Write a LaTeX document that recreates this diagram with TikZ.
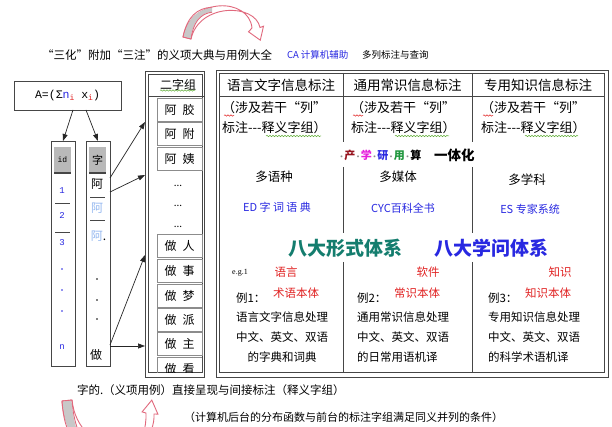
\documentclass[tikz,border=0pt]{standalone}
\usepackage{fontspec}
\setmainfont{Noto Sans CJK SC}
\newfontfamily\monof{Liberation Mono}
\newfontfamily\seriff{Liberation Serif}
\usetikzlibrary{arrows.meta,calc,decorations.pathmorphing}
\definecolor{pinkline}{RGB}{225,105,125}
\definecolor{bandgray}{RGB}{200,200,200}
\definecolor{redtxt}{RGB}{225,35,35}
\definecolor{bluetxt}{RGB}{40,40,225}
\definecolor{tealtxt}{RGB}{20,125,110}
\definecolor{lightbl}{RGB}{150,185,240}
\definecolor{hdrgray}{RGB}{185,185,185}
\definecolor{darkred}{RGB}{150,20,30}
\definecolor{magtxt}{RGB}{230,30,220}
\definecolor{greentxt}{RGB}{30,150,60}
\definecolor{framec}{RGB}{70,70,70}
\definecolor{cellc}{RGB}{140,140,140}
\definecolor{wavyg}{RGB}{100,175,60}
\newcommand{\fs}[1]{\fontsize{#1}{#1}\selectfont}
\newcommand{\cdt}{\makebox[5.5pt]{\color{black!45}\fs{7}·}}
\newcommand{\hyp}{-{}-{}-}
\begin{document}
\begin{tikzpicture}[x=1pt,y=-1pt,
  every node/.style={inner sep=0pt,outer sep=0pt},
  framebox/.style={draw=framec,line width=0.8},
  colbox/.style={draw=framec,line width=0.8,minimum width=24,minimum height=225},
  cellbox/.style={draw=cellc,line width=0.6,minimum width=45,minimum height=23,font=\fs{12}},
  arr/.style={draw=black!85,line width=0.7,-{Triangle[length=7pt,width=5pt]}},
  wavy/.style={decorate,decoration={snake,amplitude=0.7pt,segment length=3pt},line width=0.5},
  divider/.style={draw=framec,line width=0.8},
  numtxt/.style={font=\monof\fs{9},text=bluetxt},
  bodytxt/.style={anchor=west,font=\fs{11.5}},
  redlab/.style={font=\fs{11.5},text=redtxt}
]
\fill[white] (0,0) rectangle (612,427);
\useasboundingbox (0,0) rectangle (612,427);

% ---------- top curved arrow (closed outline) ----------
\filldraw[draw=pinkline,fill=white,line width=0.9]
  (183,37) .. controls (191,-3) and (249,-3) .. (252,28)
  -- (248.5,31.8) -- (260.3,40.2) -- (263.5,26.2) -- (260,27.5)
  .. controls (255,3) and (199,3) .. (191,39) -- cycle;
\fill[bandgray] (183.6,36.5) .. controls (188,17) and (198,10) .. (212,7.5)
  -- (212,11.8) .. controls (200,13) and (193,22) .. (190.4,38.5) -- cycle;
\draw[pinkline,line width=0.9] (183,37) .. controls (187,17) and (197,8) .. (212,7.2);
\draw[pinkline,line width=0.9] (191,39) .. controls (193,23) and (200,13.5) .. (212,12.2);
\draw[pinkline,line width=0.9] (183,37) -- (191,39);

% ---------- bottom curved arrow (closed outline) ----------
\filldraw[draw=pinkline,fill=white,line width=0.9]
  (62,401) .. controls (66,466) and (148,478) .. (146,413)
  -- (142.1,411.9) -- (151.8,400.1) -- (157.9,414.1) -- (154,414)
  .. controls (156,462) and (78,458) .. (72,400) -- cycle;
\fill[bandgray] (62.6,401.5) .. controls (63.5,415) and (66,425) .. (70,432)
  -- (77,430) .. controls (74,422) and (72.5,412) .. (71.5,400.5) -- cycle;
\draw[pinkline,line width=0.9] (62,401) .. controls (63,416) and (65.5,426) .. (70,434);
\draw[pinkline,line width=0.9] (72,400) .. controls (73,412) and (74.5,421) .. (78,430);
\draw[pinkline,line width=0.9] (62,401) -- (72,400);

% ---------- title ----------
\node[anchor=west,font=\fs{11.5}] (title) at (42,55) {“三化”附加“三注”的义项大典与用例大全};
\node[anchor=west,font=\fs{9.5},text=bluetxt] (ca) at (287,55) {CA 计算机辅助};
\node[anchor=west,font=\fs{9.5}] (query) at (362,55) {多列标注与查询};

% ---------- formula box ----------
\node[framebox,minimum width=107,minimum height=29] (abox) at (67.5,95.5)
  {\monof\fs{11.5}A=(Σ{\color{bluetxt}n}\raisebox{-2.5pt}{\fs{8}\color{redtxt}i} x\raisebox{-2.5pt}{\fs{8}\color{redtxt}i})};

% ---------- id column ----------
\node[colbox] (idcol) at (63,253.5) {};
\node[fill=hdrgray,minimum width=17,minimum height=26,font=\monof\fs{8}] (idhdr) at (62.5,160) {id};
\draw[framec,line width=2] (idhdr.south west) -- (idhdr.south east);
\node[numtxt] (n1) at (62,191) {1};
\draw[framec,line width=0.8] (55,203) -- (70,203);
\node[numtxt] (n2) at (62,215) {2};
\draw[framec,line width=0.8] (55,232) -- (70,232);
\node[numtxt] (n3) at (62,243) {3};
\fill[bluetxt] (62,269) circle (0.9) (62,290) circle (0.9) (62,311) circle (0.9);
\node[numtxt] (nn) at (62,347) {n};

% ---------- zi column ----------
\node[colbox] (zicol) at (98,253.5) {};
\node[fill=hdrgray,minimum width=17,minimum height=26,font=\fs{11}] (zihdr) at (97.5,160) {字};
\draw[framec,line width=2] (zihdr.south west) -- (zihdr.south east);
\node[font=\fs{12}] (z1) at (97,184) {阿};
\draw[framec,line width=0.8] (90,197) -- (105,197);
\node[font=\fs{12},text=lightbl] (z2) at (97,208) {阿};
\draw[framec,line width=0.8] (90,220) -- (105,220);
\node[font=\fs{12},text=lightbl] (z3) at (98.5,236) {阿\textcolor{black}{.}};
\fill[black] (97,279) circle (0.9) (97,300) circle (0.9) (97,319) circle (0.9);
\node[font=\fs{12}] (zn) at (96,355) {做};

% ---------- two-char column ----------
\node[framebox,minimum width=59,minimum height=306] (erzi) at (174.5,224) {};
\draw[framebox] ($(erzi.north west)+(3,3)$) rectangle ($(erzi.south east)+(-2,-5)$);
\node[font=\fs{12}] (erzihdr) at (178,85) {二字组};
\draw[wavyg,wavy] (160,90.5) -- (195,90.5);
\draw[framec,line width=1.4] (148,96.5) -- (204,96.5);
\node[cellbox] (c1) at (179.5,110) {阿\hspace{6pt}胶};
\node[cellbox] (c2) at (179.5,134) {阿\hspace{6pt}附};
\node[cellbox] (c3) at (179.5,159) {阿\hspace{6pt}姨};
\node[font=\fs{10}] (d1) at (178,186) {...};
\node[font=\fs{10}] (d2) at (178,206) {...};
\node[font=\fs{10}] (d3) at (178,227) {...};
\node[cellbox] (c4) at (179.5,246) {做\hspace{6pt}人};
\node[cellbox] (c5) at (179.5,271) {做\hspace{6pt}事};
\node[cellbox] (c6) at (179.5,296) {做\hspace{6pt}梦};
\node[cellbox] (c7) at (179.5,319.5) {做\hspace{6pt}派};
\node[cellbox] (c8) at (179.5,343.5) {做\hspace{6pt}主};
\begin{scope}
\clip (148,74) rectangle (202,372);
\node[cellbox] (c9) at (179.5,368.5) {做\hspace{6pt}看};
\end{scope}

% ---------- connectors ----------
\draw[arr] ($(abox.south)+(5.5,0)$) -- (idcol.north);
\draw[arr] ($(abox.south)+(18.5,0)$) -- (zicol.north);
\draw[arr] ($(zicol.north east)+(0,37)$) -- ($(erzi.north west)+(0,51)$);
\draw[arr] ($(zicol.north east)+(0,51)$) -- ($(erzi.north west)+(0,104)$);
\draw[arr] ($(zicol.north east)+(0,204)$) -- ($(erzi.north west)+(0,184)$);
\draw[arr] ($(zicol.north east)+(0,205)$) -- ($(erzi.north west)+(0,275)$);

% ---------- main table ----------
\node[framebox,minimum width=392,minimum height=307] (tbl) at (412,223.5) {};
\draw[framebox] ($(tbl.north west)+(3,3)$) rectangle ($(tbl.south east)+(-4,-5)$);
\draw[framec,line width=1.2] (219,96.5) -- (604,96.5);
\foreach \xx in {343,472}{
  \draw[divider] (\xx,73) -- (\xx,142);
  \draw[divider] (\xx,167) -- (\xx,233);
  \draw[divider] (\xx,262) -- (\xx,372);
}
\node[font=\fs{13.5}] (h1) at (281,85) {语言文字信息标注};
\node[font=\fs{13.5}] (h2) at (407.5,85) {通用常识信息标注};
\node[font=\fs{13.5}] (h3) at (538,85) {专用知识信息标注};

\node[anchor=west,font=\fs{13}] (r1a) at (222,108) {（涉及若干“列”};
\node[anchor=west,font=\fs{13}] (r1b) at (222,128) {标注\hyp 释义字组）};
\node[anchor=west,font=\fs{13}] (r2a) at (351,108) {（涉及若干“列”};
\node[anchor=west,font=\fs{13}] (r2b) at (351,128) {标注\hyp 释义字组）};
\node[anchor=west,font=\fs{13}] (r3a) at (481,108) {（涉及若干“列”};
\node[anchor=west,font=\fs{13}] (r3b) at (481,128) {标注\hyp 释义字组）};
\foreach \xx in {224,353,483}{
  \draw[redtxt,wavy] (\xx,115.5) -- (\xx+10,115.5);
}
\draw[wavyg,wavy] (266,136) -- (321,136);
\draw[wavyg,wavy] (395,136) -- (449,136);
\draw[wavyg,wavy] (525,136) -- (578,136);

\node[font=\fs{11}\bfseries] (cxy) at (380,155)
  {\cdt{\color{darkred}产}\cdt{\color{magtxt}学}\cdt{\color{bluetxt}研}\cdt{\color{greentxt}用}\cdt 算};
\node[anchor=west,font=\fs{13.5}\bfseries] (yth) at (434,155) {一体化};

\node[font=\fs{12.5}] (m1) at (274,177) {多语种};
\node[font=\fs{12.5}] (m2) at (398,177) {多媒体};
\node[font=\fs{12.5}] (m3) at (527,180) {多学科};

\node[font=\fs{11},text=bluetxt] (e1) at (277,207) {ED 字 词 语 典};
\node[font=\fs{11},text=bluetxt] (e2) at (403,208) {CYC百科全书};
\node[font=\fs{11},text=bluetxt] (e3) at (530,209) {ES 专家系统};

\node[font=\fs{19}\bfseries,text=tealtxt] (b1) at (345,248) {八大形式体系};
\node[font=\fs{19}\bfseries,text=bluetxt] (b2) at (491,248) {八大学问体系};

\node[font=\seriff\fs{8}] (eg) at (240,273) {e.g.1};
\node[redlab] (l1) at (286,272) {语言};
\node[redlab] (l2) at (428,272) {软件};
\node[redlab] (l3) at (560,272) {知识};

\node[bodytxt] (x1) at (236,298) {例1：};
\node[redlab,anchor=west] (o1) at (273,293) {术语本体};
\node[bodytxt] (x2) at (357,298) {例2：};
\node[redlab,anchor=west] (o2) at (394,293) {常识本体};
\node[bodytxt] (x3) at (488,298) {例3：};
\node[redlab,anchor=west] (o3) at (525,293) {知识本体};

\node[bodytxt] (p1a) at (236,317) {语言文字信息处理};
\node[bodytxt] (p1b) at (236,337) {中文、英文、双语};
\node[font=\fs{11.5}] (p1c) at (282,357) {的字典和词典};
\node[bodytxt] (p2a) at (357,317) {通用常识信息处理};
\node[bodytxt] (p2b) at (357,337) {中文、英文、双语};
\node[bodytxt] (p2c) at (357,357) {的日常用语机译};
\node[bodytxt] (p3a) at (488,317) {专用知识信息处理};
\node[bodytxt] (p3b) at (488,337) {中文、英文、双语};
\node[bodytxt] (p3c) at (488,357) {的科学术语机译};

% ---------- bottom texts ----------
\node[anchor=west,font=\fs{11.5}] (foot1) at (77,390) {字的.（义项用例）直接呈现与间接标注（释义字组）};
\node[anchor=west,font=\fs{11}] (foot2) at (184,417) {（计算机后台的分布函数与前台的标注字组满足同义并列的条件）};
\end{tikzpicture}
\end{document}
